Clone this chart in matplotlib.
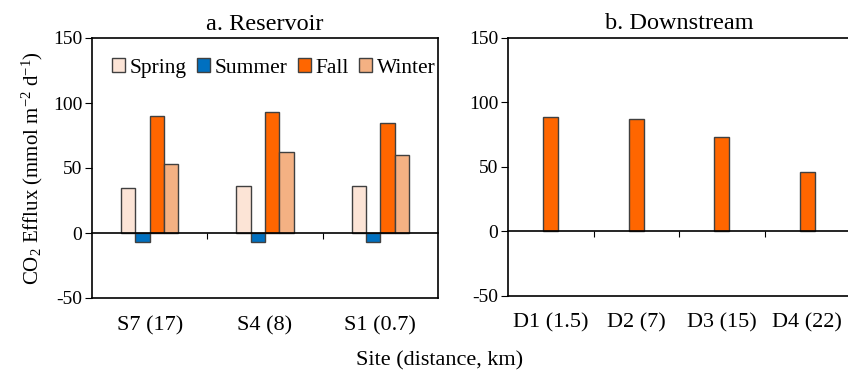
import matplotlib
matplotlib.use("Agg")
import matplotlib.pyplot as plt
import numpy as np

plt.rcParams["font.family"] = ["Liberation Serif", "DejaVu Serif"]
plt.rcParams["mathtext.fontset"] = "custom"
plt.rcParams["mathtext.rm"] = "Liberation Serif"
plt.rcParams["mathtext.it"] = "Liberation Serif:italic"
plt.rcParams["axes.unicode_minus"] = False

# data
reservoir_sites = ["S7 (17)", "S4 (8)", "S1 (0.7)"]
seasons = ["Spring", "Summer", "Fall", "Winter"]
spring = [35, 36, 36]
summer = [-7, -7, -7]
fall = [90, 93, 85]
winter = [53, 62, 60]

downstream_sites = ["D1 (1.5)", "D2 (7)", "D3 (15)", "D4 (22)"]
downstream_fall = [88, 86.5, 73, 45.5]

season_colors = ["#FCE4D6", "#0070C0", "#FF6600", "#F4B183"]
edge = "#404040"


def style_axes(ax, n):
    ax.set_ylim(-50, 150)
    ax.set_yticks([-50, 0, 50, 100, 150])
    ax.tick_params(axis="y", direction="out", length=5, labelsize=14, pad=2)
    ax.set_xlim(-0.5, n - 0.5)
    # category axis crosses at zero, ticks between categories
    ax.spines["bottom"].set_position(("data", 0))
    ax.set_xticks(np.arange(n - 1) + 0.5)
    ax.tick_params(axis="x", direction="out", length=4, labelbottom=False)
    sec = ax.secondary_xaxis("bottom")
    sec.tick_params(length=0, labelsize=16, pad=13)
    for sp in ax.spines.values():
        sp.set_linewidth(1.2)
    sec.spines["bottom"].set_linewidth(1.2)
    return sec


fig = plt.figure(figsize=(8.48, 3.77), dpi=100)
ax1 = fig.add_axes([92 / 848, 1 - 298 / 377, 346 / 848, 260 / 377])
ax2 = fig.add_axes([508 / 848, 1 - 295.5 / 377, 342 / 848, 258 / 377])

# a. Reservoir
x = np.arange(len(reservoir_sites))
w = 0.125
for i, (name, vals) in enumerate(zip(seasons, [spring, summer, fall, winter])):
    ax1.bar(x + (i - 1.5) * w, vals, w, color=season_colors[i], edgecolor=edge,
            linewidth=1, label=name, zorder=2)
sec1 = style_axes(ax1, len(reservoir_sites))
sec1.set_xticks(x, reservoir_sites)
ax1.legend(loc="center", ncol=4, frameon=False, fontsize=15.5,
           handlelength=0.6, handleheight=0.6, handletextpad=0.2,
           columnspacing=0.5, bbox_to_anchor=(0.525, 0.885), borderaxespad=0.0,
           borderpad=0.0)
ax1.set_title("a. Reservoir", fontsize=17.5, pad=6)
ax1.set_ylabel(r"CO$_2$ Efflux (mmol m$^{-2}$ d$^{-1}$)", fontsize=15, labelpad=6)

# b. Downstream
x2 = np.arange(len(downstream_sites))
ax2.bar(x2, downstream_fall, 0.175, color=season_colors[2], edgecolor=edge,
        linewidth=1, zorder=2)
sec2 = style_axes(ax2, len(downstream_sites))
sec2.set_xticks(x2, downstream_sites)
ax2.set_title("b. Downstream", fontsize=17.5, pad=6)

fig.text(440 / 848, 1 - 361 / 377, "Site (distance, km)", ha="center",
         va="center", fontsize=16)

fig.savefig("out.png", dpi=100)
